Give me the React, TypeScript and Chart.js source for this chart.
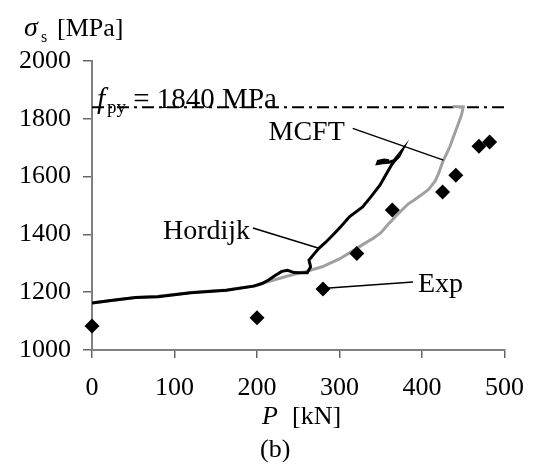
import { useEffect, useRef } from "react";
import { Chart, registerables } from "chart.js";

Chart.register(...registerables);

const FONT = '"Liberation Serif", "Times New Roman", Times, serif';

const xTickValues = [0, 100, 200, 300, 400, 500];
const yTickValues = [1000, 1200, 1400, 1600, 1800, 2000];

const hordijkLoad = [0, 25, 53, 80, 120, 163, 196, 206, 214, 222, 230, 237, 245, 253, 261, 265, 263, 267, 275, 283, 292, 302, 312, 320, 328, 338, 349, 355, 359, 363, 367, 372, 375, 366, 360, 352, 346, 347, 354, 360];
const hordijkStress = [1163, 1172, 1182, 1184, 1198, 1207, 1221, 1230, 1242, 1258, 1272, 1276, 1268, 1267, 1267, 1288, 1311, 1325, 1352, 1372, 1398, 1428, 1461, 1478, 1495, 1530, 1570, 1600, 1620, 1640, 1655, 1670, 1687, 1655, 1650, 1648, 1645, 1653, 1657, 1655];

const mcftLoad = [0, 53, 80, 120, 163, 198, 210, 237, 260, 279, 300, 320, 330, 340, 350, 359, 370, 383, 391, 399, 408, 416, 420, 425, 430, 434, 438, 443, 448, 450, 437];
const mcftStress = [1163, 1182, 1186, 1199, 1208, 1222, 1233, 1256, 1272, 1288, 1315, 1350, 1368, 1385, 1405, 1435, 1468, 1505, 1520, 1536, 1556, 1585, 1610, 1650, 1680, 1705, 1737, 1775, 1815, 1841, 1843];

const expLoad = [0, 200, 280, 321, 364, 425, 441, 469, 482];
const expStress = [1083, 1112, 1211, 1334, 1484, 1547, 1605, 1705, 1720];

const fpyValue = 1840;
const fpyRange = [0, 500];

const toXY = (xs: number[], ys: number[]) => xs.map((x, i) => ({ x, y: ys[i] }));

// annotation anchors in data coordinates
const labelNotes = [
  { text: "MCFT", x: 214, y: 1726, lx1: 316, ly1: 1767, lx2: 426, ly2: 1657 },
  { text: "Hordijk", x: 86, y: 1384, lx1: 195, ly1: 1422, lx2: 275, ly2: 1352 },
  { text: "Exp", x: 395, y: 1199, lx1: 389, ly1: 1235, lx2: 283, ly2: 1214 },
];

const annotationPlugin = {
  id: "annotations",
  afterDatasetsDraw(chart: any) {
    const { ctx, chartArea } = chart;
    const xs = chart.scales.x;
    const ys = chart.scales.y;
    ctx.save();
    ctx.fillStyle = "#000";
    ctx.strokeStyle = "#000";
    ctx.lineWidth = 1.5;
    for (const n of labelNotes) {
      ctx.beginPath();
      ctx.moveTo(xs.getPixelForValue(n.lx1), ys.getPixelForValue(n.ly1));
      ctx.lineTo(xs.getPixelForValue(n.lx2), ys.getPixelForValue(n.ly2));
      ctx.stroke();
    }
    ctx.textAlign = "left";
    ctx.textBaseline = "alphabetic";
    ctx.font = `28px ${FONT}`;
    for (const n of labelNotes) {
      ctx.fillText(n.text, xs.getPixelForValue(n.x), ys.getPixelForValue(n.y));
    }

    // f_py label
    let fx = xs.getPixelForValue(6);
    const fy = ys.getPixelForValue(fpyValue) + 1;
    ctx.font = `italic 29px ${FONT}`;
    ctx.fillText("f", fx, fy);
    fx += ctx.measureText("f").width + 2;
    ctx.font = `19px ${FONT}`;
    ctx.fillText("py", fx, fy + 5);
    fx += ctx.measureText("py").width;
    ctx.font = `29px ${FONT}`;
    ctx.fillText(" = 1840 MPa", fx, fy);

    // y-axis title
    const L = chartArea.left;
    const T = chartArea.top;
    ctx.font = `italic 28px ${FONT}`;
    ctx.fillText("\u03c3", L - 68, T - 25);
    ctx.font = `16px ${FONT}`;
    ctx.fillText("s", L - 51, T - 19);
    ctx.font = `26px ${FONT}`;
    ctx.fillText("[MPa]", L - 35, T - 25);

    // x-axis title
    const B = chartArea.bottom;
    ctx.font = `italic 26px ${FONT}`;
    ctx.fillText("P", L + 170, B + 74);
    ctx.font = `26px ${FONT}`;
    ctx.fillText("[kN]", L + 200, B + 74);
    ctx.fillText("(b)", L + 168, B + 107);
    ctx.restore();
  },
};

export default function App() {
  const canvasRef = useRef<HTMLCanvasElement | null>(null);

  useEffect(() => {
    document.body.style.margin = "0";
    const canvas = canvasRef.current;
    if (!canvas) return;
    const chart = new Chart(canvas, {
      type: "scatter",
      data: {
        datasets: [
          {
            label: "Exp",
            data: toXY(expLoad, expStress),
            showLine: false,
            pointStyle: "rectRot",
            pointRadius: 7.5,
            pointBackgroundColor: "#000",
            pointBorderColor: "#000",
            pointBorderWidth: 0,
            clip: false,
          },
          {
            label: "Hordijk",
            data: toXY(hordijkLoad, hordijkStress),
            showLine: true,
            borderColor: "#000",
            borderWidth: 3,
            pointRadius: 0,
            tension: 0,
            clip: false,
          },
          {
            label: "MCFT",
            data: toXY(mcftLoad, mcftStress),
            showLine: true,
            borderColor: "#a0a0a0",
            borderWidth: 3,
            pointRadius: 0,
            tension: 0,
            clip: false,
          },
          {
            label: "fpy",
            data: fpyRange.map((x) => ({ x, y: fpyValue })),
            showLine: true,
            borderColor: "#000",
            borderWidth: 2,
            borderDash: [12, 5, 3, 5],
            pointRadius: 0,
            clip: false,
          },
        ],
      },
      options: {
        animation: false,
        responsive: true,
        maintainAspectRatio: false,
        layout: { padding: { left: 0, right: 23, top: 61, bottom: 0 } },
        plugins: { legend: { display: false }, tooltip: { enabled: false } },
        scales: {
          x: {
            type: "linear",
            min: 0,
            max: 500,
            afterBuildTicks: (s: any) => {
              s.ticks = xTickValues.map((value) => ({ value }));
            },
            afterFit: (s: any) => {
              s.height = 119;
            },
            ticks: {
              color: "#000",
              font: { family: FONT, size: 26 },
              padding: 15,
              callback: (v: any) => String(v),
            },
            grid: { drawOnChartArea: false, drawTicks: true, tickLength: 8, color: "#666", lineWidth: 1.5 },
            border: { display: true, color: "#808080", width: 2 },
          },
          y: {
            type: "linear",
            min: 1000,
            max: 2000,
            afterBuildTicks: (s: any) => {
              s.ticks = yTickValues.map((value) => ({ value }));
            },
            afterFit: (s: any) => {
              s.width = 92;
            },
            ticks: {
              color: "#000",
              font: { family: FONT, size: 26 },
              padding: 12,
              callback: (v: any) => String(v),
            },
            grid: { drawOnChartArea: false, drawTicks: true, tickLength: 9, color: "#666", lineWidth: 1.5 },
            border: { display: true, color: "#808080", width: 2 },
          },
        },
      },
      plugins: [annotationPlugin],
    });
    return () => chart.destroy();
  }, []);

  return (
    <div style={{ position: "fixed", left: 0, top: 0, width: 539, height: 469, background: "#fff" }}>
      <canvas ref={canvasRef} />
    </div>
  );
}
